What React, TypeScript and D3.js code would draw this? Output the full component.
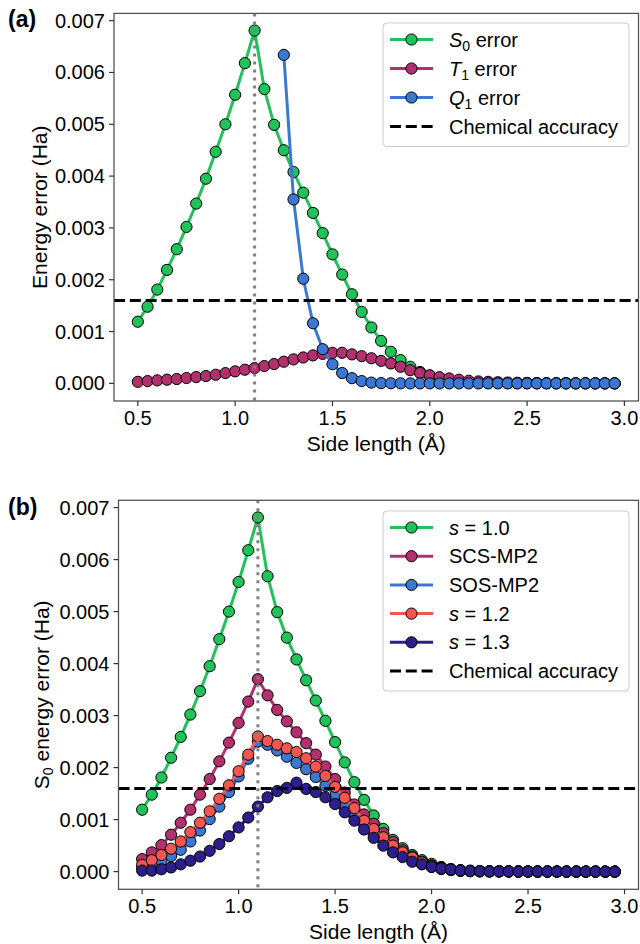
import React from 'react';
import * as d3 from 'd3';

const sideLength = [0.50,0.55,0.60,0.65,0.70,0.75,0.80,0.85,0.90,0.95,1.00,1.05,1.10,1.15,1.20,1.25,1.30,1.35,1.40,1.45,1.50,1.55,1.60,1.65,1.70,1.75,1.80,1.85,1.90,1.95,2.00,2.05,2.10,2.15,2.20,2.25,2.30,2.35,2.40,2.45,2.50,2.55,2.60,2.65,2.70,2.75,2.80,2.85,2.90,2.95];

// values in mHa
const s0Error = [1.19,1.48,1.81,2.19,2.59,3.02,3.47,3.95,4.47,5.00,5.57,6.18,6.81,5.68,4.99,4.50,4.08,3.68,3.29,2.90,2.49,2.10,1.72,1.38,1.08,0.82,0.61,0.45,0.32,0.22,0.15,0.09,0.05,0.03,0.02,0.01,0.008,0.006,0.005,0.004,0.003,0.002,0.002,0.001,0.001,0.001,0.001,0.0,0.0,0.0];
const t1Error = [0.03,0.045,0.058,0.071,0.084,0.103,0.122,0.142,0.167,0.199,0.232,0.264,0.296,0.335,0.373,0.418,0.463,0.50,0.54,0.57,0.59,0.59,0.56,0.525,0.485,0.435,0.385,0.32,0.255,0.20,0.155,0.12,0.095,0.07,0.05,0.038,0.03,0.022,0.016,0.012,0.009,0.007,0.005,0.004,0.003,0.002,0.002,0.001,0.001,0.001];
const q1Error = [null,null,null,null,null,null,null,null,null,null,null,null,null,null,null,6.34,3.55,2.02,1.16,0.66,0.37,0.20,0.10,0.045,0.015,0.005,0.002,0.001,0.0,0.0,0.0,0.0,0.0,0.0,0.0,0.0,0.0,0.0,0.0,0.0,0.0,0.0,0.0,0.0,0.0,0.0,0.0,0.0,0.0,0.0];

const scsMp2 = [0.24,0.37,0.51,0.71,0.94,1.19,1.48,1.78,2.12,2.48,2.86,3.27,3.70,3.39,3.11,2.89,2.68,2.47,2.25,2.02,1.78,1.52,1.29,1.10,0.92,0.74,0.57,0.41,0.29,0.19,0.12,0.07,0.04,0.02,0.01,0.008,0.006,0.005,0.004,0.003,0.002,0.002,0.001,0.001,0.001,0.001,0.0,0.0,0.0,0.0];
const sosMp2 = [0.08,0.15,0.21,0.30,0.42,0.58,0.79,1.01,1.25,1.53,1.83,2.17,2.50,2.44,2.33,2.21,2.09,1.97,1.82,1.65,1.46,1.27,1.09,0.92,0.76,0.60,0.46,0.33,0.23,0.15,0.09,0.05,0.03,0.015,0.01,0.006,0.005,0.004,0.003,0.002,0.002,0.001,0.001,0.001,0.0,0.0,0.0,0.0,0.0,0.0];
const s12Error = [0.13,0.22,0.32,0.44,0.58,0.76,0.94,1.16,1.40,1.66,1.93,2.25,2.60,2.51,2.44,2.37,2.30,2.18,2.02,1.84,1.63,1.42,1.22,0.98,0.82,0.66,0.50,0.37,0.27,0.18,0.11,0.07,0.04,0.02,0.01,0.007,0.005,0.004,0.003,0.002,0.002,0.001,0.001,0.001,0.0,0.0,0.0,0.0,0.0,0.0];
const s13Error = [0.02,0.02,0.045,0.08,0.14,0.21,0.29,0.40,0.53,0.68,0.85,1.04,1.25,1.43,1.55,1.61,1.71,1.59,1.53,1.43,1.30,1.14,0.98,0.81,0.65,0.50,0.37,0.28,0.19,0.14,0.09,0.06,0.04,0.02,0.01,0.007,0.005,0.004,0.003,0.002,0.002,0.001,0.001,0.001,0.0,0.0,0.0,0.0,0.0,0.0];

const chemicalAccuracy = 1.6; // mHa
const equilibriumSide = 1.1;
const xTicks = [0.5, 1.0, 1.5, 2.0, 2.5, 3.0];
const yTicks = [0, 1, 2, 3, 4, 5, 6, 7];

const GREEN = '#22c25a';
const MAGENTA = '#b3306f';
const BLUE = '#3b78d3';
const RED = '#f2564e';
const PURPLE = '#2c1e8b';

const FONT = '"Liberation Sans", Arial, Helvetica, sans-serif';

type Series = { values: (number | null)[]; color: string };
type LegendEntry = { color?: string; dashed?: boolean; label: React.ReactNode };

function Panel(props: {
  left: number; right: number; top: number; bottom: number;
  series: Series[]; legend: LegendEntry[]; legendTop: number; legendBottom: number;
  ylabel: React.ReactNode; tag: string; tagY: number; ylabelX: number;
}) {
  const { left, right, top, bottom, series, legend, legendTop, legendBottom, ylabel, tag, tagY, ylabelX } = props;
  const x = d3.scaleLinear().domain([0.3775, 3.0725]).range([left, right]);
  const y = d3.scaleLinear().domain([-0.34, 7.14]).range([bottom, top]);
  const fmt = d3.format('.3f');
  const clipId = 'clip-' + tag;
  const lineGen = d3.line<[number, number | null]>()
    .defined((d) => d[1] !== null)
    .x((d) => x(d[0]))
    .y((d) => y(d[1] as number));
  const legLeft = 383, legRight = 629;
  const rowStep = (legendBottom - legendTop - 36.5) / (legend.length - 1);
  return (
    <g>
      <defs>
        <clipPath id={clipId}>
          <rect x={left} y={top} width={right - left} height={bottom - top} />
        </clipPath>
      </defs>
      <g clipPath={`url(#${clipId})`}>
        {series.map((s, i) => {
          const pts = sideLength.map((sl, j) => [sl, s.values[j]] as [number, number | null]);
          return (
            <g key={i}>
              <path d={lineGen(pts) || ''} fill="none" stroke={s.color} strokeWidth={3} strokeLinejoin="round" />
              {pts.filter((p) => p[1] !== null).map((p, j) => (
                <circle key={j} cx={x(p[0])} cy={y(p[1] as number)} r={5.6} fill={s.color} stroke="#000" strokeWidth={1} />
              ))}
            </g>
          );
        })}
        <line x1={left} x2={right} y1={y(chemicalAccuracy)} y2={y(chemicalAccuracy)} stroke="#000" strokeWidth={3} strokeDasharray="11,4.8" />
        <line x1={x(equilibriumSide)} x2={x(equilibriumSide)} y1={top} y2={bottom} stroke="#808080" strokeWidth={3} strokeDasharray="3,5" />
      </g>
      <rect x={left} y={top} width={right - left} height={bottom - top} fill="none" stroke="#555" strokeWidth={1.3} />
      {xTicks.map((t) => (
        <g key={t}>
          <line x1={x(t)} x2={x(t)} y1={bottom} y2={bottom + 5} stroke="#333" strokeWidth={1.2} />
          <text x={x(t)} y={bottom + 24} textAnchor="middle" fontSize={20} fontFamily={FONT} fill="#000">{t.toFixed(1)}</text>
        </g>
      ))}
      {yTicks.map((t) => (
        <g key={t}>
          <line x1={left - 5} x2={left} y1={y(t)} y2={y(t)} stroke="#333" strokeWidth={1.2} />
          <text x={left - 9} y={y(t) + 7} textAnchor="end" fontSize={20} fontFamily={FONT} fill="#000">{fmt(t / 1000)}</text>
        </g>
      ))}
      <text x={(left + right) / 2} y={bottom + 50} textAnchor="middle" fontSize={21} fontFamily={FONT} fill="#000">Side length (Å)</text>
      <text transform={`translate(${ylabelX},${(top + bottom) / 2}) rotate(-90)`} textAnchor="middle" fontSize={21} fontFamily={FONT} fill="#000" dy={7}>{ylabel}</text>
      <text x={8} y={tagY} fontSize={23} fontWeight="bold" fontFamily={FONT} fill="#000">{tag}</text>
      <rect x={legLeft} y={legendTop} width={legRight - legLeft} height={legendBottom - legendTop} rx={4} fill="#fff" fillOpacity={0.8} stroke="#ccc" strokeWidth={1} />
      {legend.map((e, i) => {
        const cy = legendTop + 16.5 + i * rowStep;
        return (
          <g key={i}>
            {e.dashed ? (
              <line x1={390} x2={433} y1={cy} y2={cy} stroke="#000" strokeWidth={3} strokeDasharray="11,4.8" />
            ) : (
              <g>
                <line x1={390} x2={433} y1={cy} y2={cy} stroke={e.color} strokeWidth={3} />
                <circle cx={411.5} cy={cy} r={5.6} fill={e.color} stroke="#000" strokeWidth={1} />
              </g>
            )}
            <text x={449} y={cy + 7} fontSize={20} fontFamily={FONT} fill="#000">{e.label}</text>
          </g>
        );
      })}
    </g>
  );
}

const sub = (main: string, s: string, rest: string, italic = true) => (
  <>
    <tspan fontStyle={italic ? 'italic' : 'normal'}>{main}</tspan>
    <tspan fontSize={14} dy={4}>{s}</tspan>
    <tspan dy={-4}>{rest}</tspan>
  </>
);

export default function App() {
  return (
    <svg width={640} height={944} style={{ position: 'absolute', left: 0, top: 0, background: '#fff' }}>
      <Panel
        left={114} right={638.5} top={13.4} bottom={401}
        series={[
          { values: s0Error, color: GREEN },
          { values: t1Error, color: MAGENTA },
          { values: q1Error, color: BLUE },
        ]}
        legend={[
          { color: GREEN, label: sub('S', '0', ' error') },
          { color: MAGENTA, label: sub('T', '1', ' error') },
          { color: BLUE, label: sub('Q', '1', ' error') },
          { dashed: true, label: 'Chemical accuracy' },
        ]}
        legendTop={23} legendBottom={146.5}
        ylabel={'Energy error (Ha)'} tag="(a)" tagY={27} ylabelX={40}
      />
      <Panel
        left={118.5} right={638.5} top={500.3} bottom={889.3}
        series={[
          { values: s0Error, color: GREEN },
          { values: scsMp2, color: MAGENTA },
          { values: sosMp2, color: BLUE },
          { values: s12Error, color: RED },
          { values: s13Error, color: PURPLE },
        ]}
        legend={[
          { color: GREEN, label: <><tspan fontStyle="italic">s</tspan> = 1.0</> },
          { color: MAGENTA, label: 'SCS-MP2' },
          { color: BLUE, label: 'SOS-MP2' },
          { color: RED, label: <><tspan fontStyle="italic">s</tspan> = 1.2</> },
          { color: PURPLE, label: <><tspan fontStyle="italic">s</tspan> = 1.3</> },
          { dashed: true, label: 'Chemical accuracy' },
        ]}
        legendTop={511} legendBottom={691}
        ylabel={sub('S', '0', ' energy error (Ha)', false)} tag="(b)" tagY={515} ylabelX={42}
      />
    </svg>
  );
}
